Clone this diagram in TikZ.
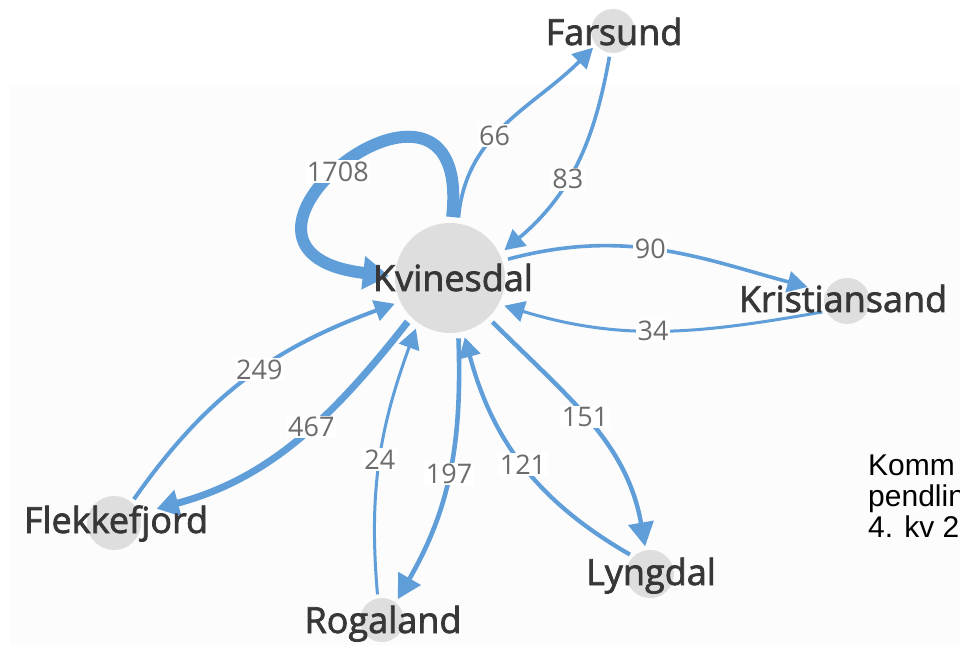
\documentclass[tikz,border=0pt]{standalone}
\usepackage{fontspec}
\setmainfont{Open Sans}
\newfontfamily\townfont{Open Sans}[FakeBold=2]
\newfontfamily\notefont{Liberation Sans}
\usetikzlibrary{arrows.meta}
\definecolor{flowblue}{RGB}{95,158,216}
\definecolor{towngray}{RGB}{222,222,222}
\definecolor{namedark}{RGB}{55,55,55}
\definecolor{countgray}{RGB}{108,108,108}
\begin{document}
\begin{tikzpicture}[x=1pt, y=1pt,
    town/.style={circle, fill=towngray, inner sep=0pt, outer sep=4pt, minimum size=46pt},
    townname/.style={anchor=base, inner sep=0pt, text=namedark, font=\townfont\fontsize{36}{40}\selectfont},
    flow/.style={draw=flowblue, line width=3.6pt, -{Triangle[length=20pt, width=21pt]}},
    count/.style={fill=white, inner sep=1.5pt, text=countgray, font=\fontsize{27}{30}\selectfont}]

    \useasboundingbox (0,0) rectangle (960,645);
    \fill[black!1] (10,0) rectangle (960,560);

    % Nodes
    \node[town, minimum size=110pt, outer sep=6pt] (Kv) at (450,367) {};
    \node[town, minimum size=44pt] (Fa) at (613,614) {};
    \node[town] (Kr) at (847,344) {};
    \node[town, minimum size=48pt] (Ly) at (650,71) {};
    \node[town, minimum size=44pt] (Ro) at (382,25) {};
    \node[town, minimum size=54pt] (Fl) at (114,122) {};

    % Edges with counts
    \draw[flow, line width=12pt, -{Triangle[length=26pt, width=32pt]}]
        (Kv.88) .. controls +(22,200) and +(-215,25) .. (Kv.178)
        node[count, pos=0.54] {1708};
    \draw[flow] (Kv.82) to[out=85, in=225] node[count, pos=0.42] {66} (Fa.220);
    \draw[flow] (Fa.262) to[out=260, in=40] node[count, pos=0.58] {83} (Kv.27);
    \draw[flow, shorten >=15pt] (Kv.18) to[out=15, in=165] node[count, pos=0.45] {90} (Kr.158);
    \draw[flow, line width=3pt] (Kr.204) to[out=190, in=343] node[count, pos=0.53] {34} (Kv.333);
    \draw[flow, line width=4.4pt, -{Triangle[length=24pt, width=25pt]}]
        (Kv.314) to[out=315, in=100] node[count, pos=0.47] {151} (Ly.100);
    \draw[flow, line width=4.2pt] (Ly.136) to[out=150, in=285] node[count, pos=0.5] {121} (Kv.284);
    \draw[flow, line width=4.6pt, -{Triangle[length=24pt, width=25pt]}]
        (Kv.278) to[out=272, in=60] node[count, pos=0.5] {197} (Ro.53);
    \draw[flow, line width=3pt] (Ro.100) to[out=95, in=250] node[count, pos=0.5] {24} (Kv.236);
    \draw[flow, line width=4pt] (Fl.50) to[out=55, in=200] node[count, pos=0.55] {249} (Kv.205);
    \draw[flow, line width=7pt, shorten >=14pt, -{Triangle[length=22pt, width=26pt]}]
        (Kv.226) to[out=232, in=15] node[count, pos=0.42] {467} (Fl.20);

    % Names
    \node[townname] (KvName) at (453,354) {Kvinesdal};
    \node[townname] (FaName) at (614,600) {Farsund};
    \node[townname] (KrName) at (843,333) {Kristiansand};
    \node[townname] (LyName) at (651,60) {Lyngdal};
    \node[townname] (RoName) at (383,12) {Rogaland};
    \node[townname] (FlName) at (116,112) {Flekkefjord};

    % Note at the right edge
    \node[anchor=base west, inner sep=0pt, align=left,
          font=\notefont\fontsize{30}{31.5}\selectfont] (note) at (868,107)
          {Komm\\pendlin\\4. kv 2};
\end{tikzpicture}
\end{document}
